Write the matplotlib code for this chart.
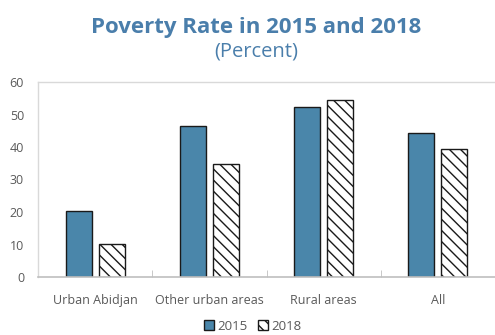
import matplotlib
matplotlib.use("Agg")
import matplotlib.pyplot as plt
import numpy as np

categories = ["Urban Abidjan", "Other urban areas", "Rural areas", "All"]
rate_2015 = [20.3, 46.6, 52.4, 44.4]
rate_2018 = [10.2, 34.8, 54.5, 39.3]
series_labels = ["2015", "2018"]
yticks = [0, 10, 20, 30, 40, 50, 60]

plt.rcParams['font.family'] = ['Open Sans', 'DejaVu Sans']
plt.rcParams['hatch.linewidth'] = 1.0

fig = plt.figure(figsize=(4.95, 3.35), dpi=100)
ax = fig.add_axes([38/495, 1-277/335, 1-38/495, (277-82)/335])

x = np.arange(len(categories))
w = 0.227
off = 0.144
blue = "#4A86AA"
ax.bar(x - off, rate_2015, w, color=blue, edgecolor="#1a1a1a", linewidth=1.0, label=series_labels[0])
ax.bar(x + off, rate_2018, w, color="white", edgecolor="#1a1a1a", linewidth=1.0, hatch="\\\\\\", label=series_labels[1])

ax.set_xlim(-0.5, len(categories) - 0.5)
ax.set_ylim(0, 60)
ax.set_yticks(yticks)
ax.set_xticks(x)
ax.set_xticklabels(categories)
ax.set_xticks(np.arange(0.5, len(categories) - 0.5, 1), minor=True)
ax.tick_params(axis='x', which='major', length=0, pad=12, labelsize=9, labelcolor="#595959")
ax.tick_params(axis='x', which='minor', length=5, direction='in', color="#BFBFBF")
ax.tick_params(axis='y', length=0, pad=10, labelsize=9, labelcolor="#595959")

for s in ['top', 'left']:
    ax.spines[s].set_color("#D9D9D9")
    ax.spines[s].set_linewidth(1.0)
ax.spines['bottom'].set_color("#BFBFBF")
ax.spines['bottom'].set_linewidth(1.2)
ax.spines['right'].set_visible(False)

fig.text(0.518, 1-27/335, "Poverty Rate in 2015 and 2018", ha='center', va='center',
         fontsize=16, fontweight='bold', color="#4A7EAB")
fig.text(0.518, 1-51/335, "(Percent)", ha='center', va='center',
         fontsize=14.5, color="#4A7EAB")

leg = fig.legend(loc='center', bbox_to_anchor=(0.51, 1-326/335), ncol=2, frameon=False,
                 fontsize=9.5, handlelength=0.8, handleheight=0.8, handletextpad=0.2,
                 columnspacing=0.8, labelcolor="#595959")

fig.savefig("out.png", dpi=100)
